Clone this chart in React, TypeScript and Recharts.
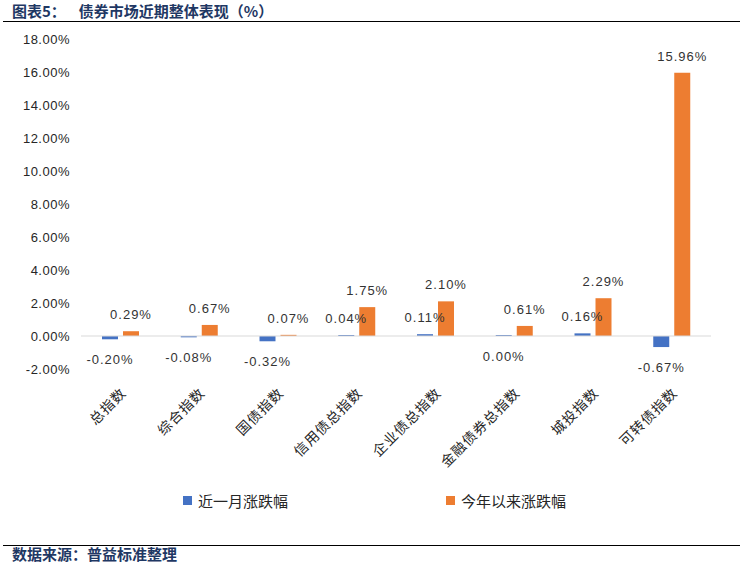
import React from "react";
import { BarChart, Bar, XAxis, YAxis, ReferenceLine, LabelList } from "recharts";

const categories: string[] = [
  "总指数",
  "综合指数",
  "国债指数",
  "信用债总指数",
  "企业债总指数",
  "金融债券总指数",
  "城投指数",
  "可转债指数",
];
const monthChange: number[] = [-0.2, -0.08, -0.32, 0.04, 0.11, 0.0, 0.16, -0.67];
const ytdChange: number[] = [0.29, 0.67, 0.07, 1.75, 2.1, 0.61, 2.29, 15.96];
const yTicks: number[] = [-2, 0, 2, 4, 6, 8, 10, 12, 14, 16, 18];

const seriesNames = ["近一月涨跌幅", "今年以来涨跌幅"];
const colors = ["#4472C4", "#ED7D31"];

const data = categories.map((name, i) => ({
  name,
  month: monthChange[i],
  ytd: ytdChange[i],
}));

const sansFont = '"Liberation Sans", Arial, sans-serif';
const cjkFont = '"Noto Sans CJK SC", sans-serif';
const navy = "#1F3864";

const pct = (v: number) => `${v.toFixed(2)}%`;

const CategoryTick = (props: any) => {
  const { x, y, payload } = props;
  return (
    <g transform={`translate(${x + 4},${y + 14})`}>
      <text
        textAnchor="end"
        transform="rotate(-45)"
        dy={4}
        fontSize={14}
        letterSpacing={1}
        fontFamily={cjkFont}
        fill="#262626"
      >
        {payload.value}
      </text>
    </g>
  );
};

const ValueLabel = (props: any) => {
  const { x, y, width, height, value } = props;
  const v = Number(value);
  const cx = x + width / 2;
  // bars below zero get their label underneath
  const top = Math.min(y, y + height);
  const bottom = Math.max(y, y + height);
  const ly = v <= 0 ? bottom + 25 : top - 12;
  return (
    <text
      x={cx}
      y={ly}
      textAnchor="middle"
      fontSize={13}
      letterSpacing={1}
      fontFamily={sansFont}
      fill="#333"
    >
      {pct(v)}
    </text>
  );
};

const App: React.FC = () => {
  return (
    <div
      style={{
        position: "absolute",
        left: 0,
        top: 0,
        width: 743,
        height: 564,
        background: "#fff",
        fontFamily: cjkFont,
      }}
    >
      <div
        style={{
          position: "absolute",
          left: 12,
          top: 0,
          fontSize: 15,
          fontWeight: "bold",
          color: navy,
          whiteSpace: "pre",
        }}
      >
        图表5：<span style={{ marginLeft: 13 }}>债券市场近期整体表现（%）</span>
      </div>
      <div
        style={{
          position: "absolute",
          left: 3,
          top: 21,
          width: 737,
          height: 0,
          borderTop: "1.5px solid #000",
        }}
      />

      <div style={{ position: "absolute", left: 0, top: 0 }}>
        <BarChart
          width={743}
          height={480}
          data={data}
          margin={{ top: 39, right: 32, left: 0, bottom: 0 }}
          barGap={5}
          barCategoryGap={0}
        >
          <YAxis
            domain={[-2, 18]}
            ticks={yTicks}
            tickFormatter={pct}
            width={81}
            axisLine={false}
            tickLine={false}
            tickSize={0}
            tickMargin={11}
            interval={0}
            tick={{ fill: "#262626", fontSize: 13, fontFamily: sansFont, letterSpacing: 0.5 }}
          />
          <XAxis
            dataKey="name"
            axisLine={false}
            tickLine={false}
            interval={0}
            height={111}
            tick={<CategoryTick />}
          />
          <ReferenceLine y={0} stroke="#D9D9D9" strokeWidth={1} />
          <Bar
            dataKey="month"
            name={seriesNames[0]}
            fill={colors[0]}
            barSize={16}
            minPointSize={1}
            isAnimationActive={false}
          >
            <LabelList dataKey="month" content={<ValueLabel />} />
          </Bar>
          <Bar
            dataKey="ytd"
            name={seriesNames[1]}
            fill={colors[1]}
            barSize={16}
            isAnimationActive={false}
          >
            <LabelList dataKey="ytd" content={<ValueLabel />} />
          </Bar>
        </BarChart>
      </div>

      {seriesNames.map((s, i) => (
        <div
          key={s}
          style={{
            position: "absolute",
            left: i === 0 ? 183 : 446,
            top: 490,
            display: "flex",
            alignItems: "center",
            fontSize: 15,
            color: "#262626",
          }}
        >
          <span
            style={{
              display: "inline-block",
              width: 9,
              height: 9,
              background: colors[i],
              marginRight: 6,
            }}
          />
          {s}
        </div>
      ))}

      <div
        style={{
          position: "absolute",
          left: 3,
          top: 545,
          width: 737,
          height: 0,
          borderTop: "1.5px solid #000",
        }}
      />
      <div
        style={{
          position: "absolute",
          left: 12,
          top: 543,
          fontSize: 15,
          fontWeight: "bold",
          color: navy,
        }}
      >
        数据来源：普益标准整理
      </div>
    </div>
  );
};

export default App;
